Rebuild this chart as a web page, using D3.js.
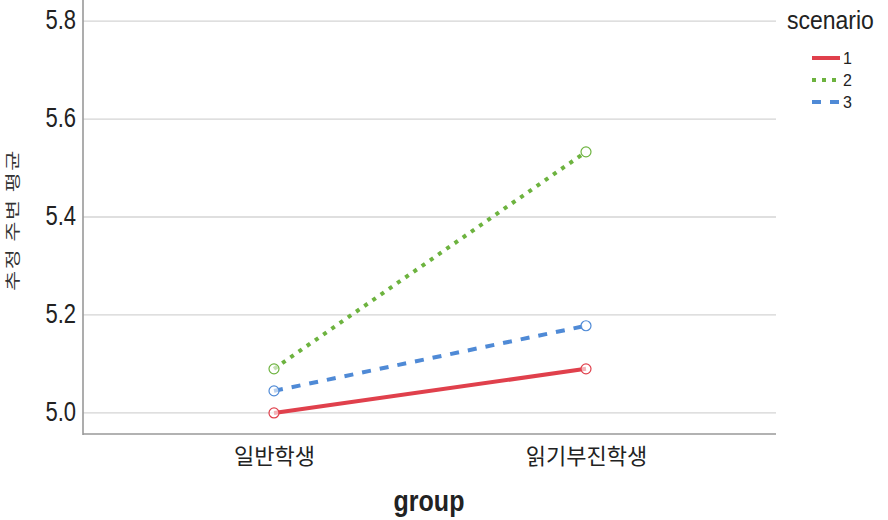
<!DOCTYPE html>
<html><head><meta charset="utf-8">
<script src="https://cdn.jsdelivr.net/npm/d3@7"></script>
<style>body{margin:0;background:#fff}svg{display:block}</style>
</head><body><svg id="c" width="888" height="520"></svg>
<script>
const groups = ["일반학생", "읽기부진학생"];
const scenarios = ["1", "2", "3"];
const s1 = [5.000, 5.090];
const s2 = [5.090, 5.533];
const s3 = [5.045, 5.178];
const yTicks = [5.0, 5.2, 5.4, 5.6, 5.8];
const colors = ["#E0404C", "#6DB33F", "#4F8AD6"];
const dashes = [null, "4,6", "9,9"];
const seriesVals = [s1, s2, s3];

const svg = d3.select("#c");
const L = 83, R = 776, T = 0, B = 434;
const y = d3.scaleLinear().domain([4.957, 5.843]).range([B, T]);
const x = d3.scalePoint().domain(groups).range([274, 586]);
const font = "Arial, 'Liberation Sans', 'Noto Sans CJK KR', sans-serif";
const kfont = "'Noto Sans CJK KR', sans-serif";

// grid
svg.append("g").selectAll("line").data(yTicks).join("line")
  .attr("x1", L).attr("x2", R).attr("y1", d => y(d)).attr("y2", d => y(d))
  .attr("stroke", "#d4d4d4").attr("stroke-width", 1.3);

// axes
const ya = svg.append("g").attr("transform", `translate(${L},0)`)
  .call(d3.axisLeft(y).tickValues(yTicks).tickFormat(d3.format(".1f")).tickSize(0).tickPadding(7));
ya.select(".domain").remove();
ya.selectAll("text").attr("font-family", font).attr("font-size", 22).attr("fill", "#222")
  .attr("transform", "scale(1,1.25)").attr("dy", "0.28em");
svg.append("line").attr("x1", L).attr("x2", L).attr("y1", T).attr("y2", B + 1)
  .attr("stroke", "#999").attr("stroke-width", 1.6);

const xa = svg.append("g").attr("transform", `translate(0,${B})`)
  .call(d3.axisBottom(x).tickSize(0).tickPadding(14));
xa.select(".domain").remove();
xa.selectAll("text").attr("font-family", kfont).attr("font-size", 22).attr("fill", "#222");
svg.append("line").attr("x1", L).attr("x2", R).attr("y1", B).attr("y2", B)
  .attr("stroke", "#999").attr("stroke-width", 1.6);

// titles
svg.append("text").attr("transform", "translate(429,511) scale(1,1.15)").attr("text-anchor", "middle")
  .attr("font-family", font).attr("font-size", 25).attr("font-weight", "bold").attr("fill", "#222").text("group");
svg.append("text").attr("transform", "translate(18,220) rotate(-90) scale(1.45,1)").attr("text-anchor", "middle")
  .attr("font-family", kfont).attr("font-size", 15).attr("letter-spacing", 1).attr("fill", "#333").text("추정 주변 평균");

// lines
const line = d3.line().x((d, i) => x(groups[i])).y(d => y(d));
seriesVals.forEach((vals, k) => {
  svg.append("path").attr("d", line(vals)).attr("fill", "none")
    .attr("stroke", colors[k]).attr("stroke-width", 4)
    .attr("stroke-dasharray", dashes[k]);
  svg.append("g").selectAll("circle").data(vals).join("circle")
    .attr("cx", (d, i) => x(groups[i])).attr("cy", d => y(d)).attr("r", 5)
    .attr("fill", "#fff").attr("fill-opacity", 0.6).attr("stroke", colors[k]).attr("stroke-width", 1.2);
});

// legend
svg.append("text").attr("transform", "translate(787,29) scale(1,1.15)").attr("font-family", font)
  .attr("font-size", 23).attr("fill", "#222").text("scenario");
scenarios.forEach((s, k) => {
  const yy = 58 + k * 22;
  svg.append("line").attr("x1", 812).attr("x2", 840).attr("y1", yy).attr("y2", yy)
    .attr("stroke", colors[k]).attr("stroke-width", 4).attr("stroke-dasharray", dashes[k]);
  svg.append("text").attr("x", 843).attr("y", yy + 6).attr("font-family", font)
    .attr("font-size", 16).attr("fill", "#222").text(s);
});
</script></body></html>
